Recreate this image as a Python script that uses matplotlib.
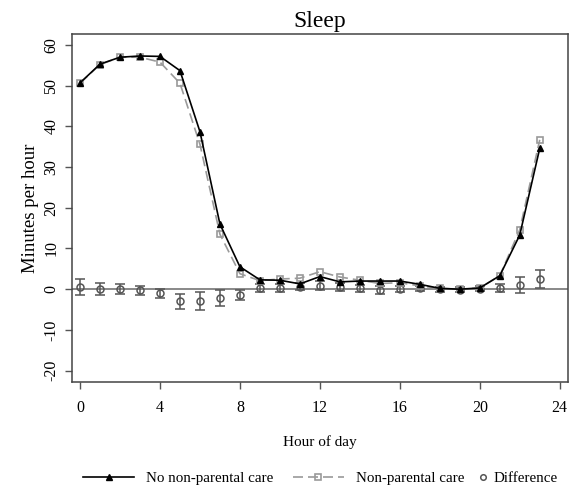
import matplotlib
matplotlib.use("Agg")
import matplotlib.pyplot as plt

plt.rcParams['font.family'] = ['Liberation Serif', 'DejaVu Serif']
plt.rcParams['axes.unicode_minus'] = False

hours = list(range(24))
no_care = [50.7, 55.3, 57.0, 57.3, 57.2, 53.7, 38.7, 16.0, 5.5, 2.3, 2.2, 1.3, 3.1,
           1.8, 2.0, 2.0, 2.0, 1.2, 0.2, 0.0, 0.3, 3.3, 13.3, 34.6]
care = [50.6, 55.2, 57.0, 57.0, 55.8, 50.6, 35.6, 13.5, 3.8, 2.1, 2.5, 2.7, 4.3,
        3.0, 2.2, 1.4, 1.6, 0.8, 0.2, 0.0, 0.3, 3.3, 14.6, 36.7]
diff = [0.5, 0.0, 0.0, -0.3, -1.0, -3.0, -2.9, -2.2, -1.4, 0.3, 0.3, 0.6, 0.8,
        0.5, 0.2, -0.2, 0.1, 0.2, 0.0, -0.1, 0.1, 0.2, 1.0, 2.6]
diff_err = [1.9, 1.5, 1.2, 1.2, 1.1, 1.8, 2.25, 1.9, 1.2, 1.0, 1.0, 0.9, 1.1,
            1.0, 0.9, 0.9, 0.8, 0.7, 0.6, 0.6, 0.6, 1.0, 2.0, 2.2]

fig = plt.figure(figsize=(5.79, 4.93), dpi=100)
ax = fig.add_axes([0.1244, 0.2252, 0.8561, 0.7058])

ax.axhline(0, color='#888888', lw=1.4, zorder=1)
l1, = ax.plot(hours, no_care, color='black', lw=1.2, marker='^', ms=4.5,
              mfc='black', mec='black', zorder=4, label='No non-parental care')
l2, = ax.plot(hours, care, color='#9a9a9a', lw=1.2, ls=(0, (6, 3)), marker='s', ms=5,
              mfc='none', mec='#9a9a9a', mew=1.2, zorder=3, label='Non-parental care')
ax.errorbar(hours, diff, yerr=diff_err, fmt='o', ms=5, mfc='none', mec='#555555',
            mew=1.1, ecolor='#555555', elinewidth=1.1, capsize=3.5, capthick=1.1,
            zorder=2)
l3, = ax.plot([], [], ls='none', marker='o', ms=4, mfc='none', mec='#555555',
              mew=1.1, label='Difference')

ax.set_xlim(-0.4, 24.4)
ax.set_ylim(-22.8, 62.7)
ax.set_xticks(range(0, 25, 4))
ax.set_yticks(range(-20, 61, 10))
ax.tick_params(direction='out', length=5, width=1, color='#555555', labelsize=11.5)
ax.tick_params(axis='x', pad=8)
ax.tick_params(axis='y', pad=4)
for lab in ax.get_yticklabels():
    lab.set_rotation(90)
    lab.set_va('center')
for s in ax.spines.values():
    s.set_color('#444444')
    s.set_linewidth(1.1)

ax.set_title('Sleep', fontsize=17, pad=5)
ax.set_xlabel('Hour of day', fontsize=11, labelpad=14)
ax.set_ylabel('Minutes per hour', fontsize=13.5, labelpad=3)

leg_font = 10.8
leg1 = fig.legend(handles=[l1, l2], loc='center left',
                  bbox_to_anchor=(83 / 579, 1 - 478 / 493), ncol=2, frameon=False,
                  fontsize=leg_font, handlelength=3.4, columnspacing=1.3,
                  handletextpad=0.8, borderpad=0, borderaxespad=0)
leg2 = fig.legend(handles=[l3], loc='center left',
                  bbox_to_anchor=(477 / 579, 1 - 478 / 493), frameon=False,
                  fontsize=leg_font, handlelength=0.8, handletextpad=0.3,
                  borderpad=0, borderaxespad=0)

fig.savefig('out.png', dpi=100)
